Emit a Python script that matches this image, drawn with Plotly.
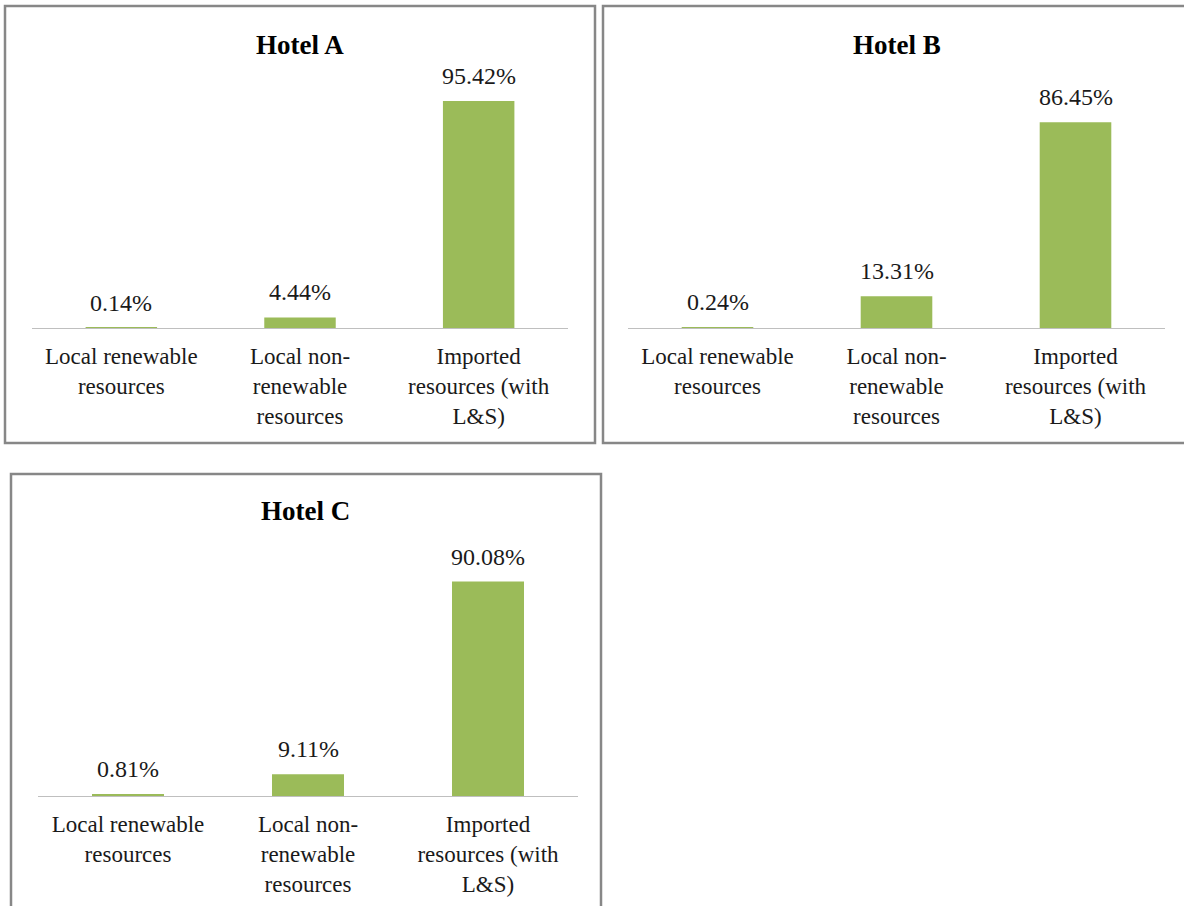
import plotly.graph_objects as go

W, H = 1184, 906

hotels = ["Hotel A", "Hotel B", "Hotel C"]
categories = ["Local renewable<br>resources",
              "Local non-<br>renewable<br>resources",
              "Imported<br>resources (with<br>L&S)"]
hotel_a = [0.14, 4.44, 95.42]
hotel_b = [0.24, 13.31, 86.45]
hotel_c = [0.81, 9.11, 90.08]
series = [hotel_a, hotel_b, hotel_c]

# panel geometry in pixels: plot area (x0, x1, y_top, y_base), frame (x0, y0, x1, y1), title (x, y)
plots = [(32, 568, 90, 328), (628, 1165, 90, 328), (38, 578, 558, 796)]
frames = [(5, 6, 595, 443), (603, 6, 1192, 443), (11, 474, 601, 912)]
titles = [(300, 45), (897, 45), (305, 511)]

FONT = "Liberation Serif"
GREEN = "#9BBB59"
TXT = "#1a1a1a"

fig = go.Figure()
layout_axes = {}
annotations = []
for i, (vals, (x0, x1, yt, yb)) in enumerate(zip(series, plots)):
    n = "" if i == 0 else str(i + 1)
    fig.add_trace(go.Bar(
        x=categories, y=vals,
        xaxis="x" + n, yaxis="y" + n,
        marker=dict(color=GREEN, line=dict(width=0)),
        width=0.4,
        showlegend=False, hoverinfo="skip",
    ))
    for c, v in zip(categories, vals):
        annotations.append(dict(
            x=c, y=v, xref="x" + n, yref="y" + n,
            text="%.2f%%" % v, showarrow=False,
            xanchor="center", yanchor="bottom", yshift=10,
            font=dict(family=FONT, size=24, color=TXT),
        ))
    layout_axes["xaxis" + n] = dict(
        domain=[x0 / W, x1 / W], anchor="y" + n,
        showline=True, linecolor="#BFBFBF", linewidth=1.3,
        showgrid=False, zeroline=False, ticks="",
        ticklabelstandoff=7, layer="below traces",
        tickfont=dict(family=FONT, size=23, color=TXT),
        fixedrange=True,
    )
    layout_axes["yaxis" + n] = dict(
        domain=[1 - yb / H, 1 - yt / H], anchor="x" + n,
        range=[0, 100], visible=False, fixedrange=True,
    )

shapes = [dict(type="rect", xref="paper", yref="paper",
               x0=fx0 / W, x1=fx1 / W, y0=1 - fy1 / H, y1=1 - fy0 / H,
               line=dict(color="#878787", width=2.5), layer="below")
          for (fx0, fy0, fx1, fy1) in frames]

annotations += [dict(text="<b>%s</b>" % t, x=tx / W, y=1 - ty / H,
                     xref="paper", yref="paper", showarrow=False,
                     xanchor="center", yanchor="middle",
                     font=dict(family=FONT, size=27, color="#000000"))
                for t, (tx, ty) in zip(hotels, titles)]

fig.update_layout(
    width=W, height=H,
    margin=dict(l=0, r=0, t=0, b=0),
    paper_bgcolor="white", plot_bgcolor="white",
    shapes=shapes, annotations=annotations,
    **layout_axes,
)

fig.write_html("out.html")
